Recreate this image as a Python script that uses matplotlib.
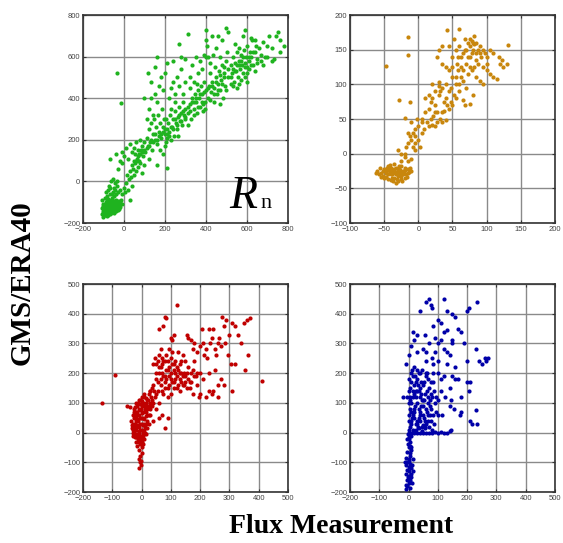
import numpy as np
import matplotlib
matplotlib.use("Agg")
import matplotlib.pyplot as plt

rn_pts = [
    # cluster bottom left
    (-100, -150), (-95, -160), (-90, -140), (-85, -130), (-80, -150), (-75, -120), (-70, -140),
    (-65, -110), (-60, -130), (-55, -100), (-50, -120), (-45, -140), (-40, -110), (-35, -130),
    (-30, -100), (-25, -120), (-20, -110), (-105, -130), (-100, -110), (-95, -125), (-90, -100),
    (-85, -95), (-80, -110), (-75, -90), (-70, -100), (-65, -125), (-60, -145), (-55, -135),
    (-50, -95), (-45, -105), (-40, -90), (-35, -115), (-30, -125), (-25, -95), (-85, -165),
    (-100, -170), (-92, -120), (-78, -135), (-68, -155), (-58, -115), (-48, -125), (-38, -140),
    (-28, -110), (-18, -125), (-105, -90), (-95, -80), (-85, -70), (-80, -40), (-75, -20),
    (-70, -60), (-90, -50), (-60, -80), (-50, -70), (-40, -60), (-65, 0), (-55, 10), (-45, -10),
    (-35, 0), (-50, -30), (-20, -40), (-10, -60), (-30, -50), (-100, -140), (-72, -128),
    (-62, -108), (-52, -142), (-42, -118), (-32, -92), (-22, -135), (-88, -148), (-108, -155),
    (-12, -110), (-15, -90),
    (-98, -135), (-93, -155), (-88, -118), (-83, -142), (-78, -160), (-73, -112), (-68, -132),
    (-63, -150), (-58, -98), (-53, -125), (-47, -150), (-43, -100), (-37, -122), (-33, -108),
    (-27, -138), (-23, -105), (-17, -100), (-82, -125), (-76, -100), (-66, -95), (-56, -88),
    (-46, -115), (-36, -100), (-26, -112), (-96, -145), (-86, -108), (-104, -120), (-62, -120),
    (-52, -108), (-42, -132), (-90, -160), (-70, -118), (-80, -85), (-60, -60), (-70, -30),
    (-45, -40), (-35, -20), (-55, -50), (-95, -110), (-75, -145),
    # 0 .. 200
    (0, -30), (5, -50), (10, -10), (15, 30), (20, -40), (25, 10), (30, 50), (35, 20), (40, -20),
    (45, 60), (50, 30), (55, 90), (60, 50), (65, 110), (70, 70), (75, 130), (80, 90), (85, 150),
    (90, 40), (95, 120), (100, 80), (-30, 60), (-20, 100), (-10, 140), (0, 120), (10, 160),
    (20, 110), (30, 180), (40, 140), (50, 160), (60, 190), (70, 150), (80, 200), (90, 170),
    (100, 190), (-40, 130), (-10, 90), (40, 80), (55, 130), (75, 100), (210, 65), (160, 80),
    (30, -90), (-70, 110), (-35, 520), (-15, 375),
    (105, 140), (110, 210), (115, 170), (120, 250), (125, 190), (130, 280), (135, 150), (140, 230),
    (145, 300), (150, 200), (155, 260), (160, 180), (165, 320), (170, 240), (175, 280), (180, 210),
    (185, 350), (190, 260), (195, 300), (200, 230), (110, 300), (120, 350), (130, 400), (140, 320),
    (150, 420), (160, 380), (170, 460), (180, 500), (190, 440), (200, 520), (115, 520), (150, 550),
    (160, 600), (100, 400), (130, 480), (200, 170), (190, 130), (120, 110), (175, 150), (205, 190),
    (210, 250),
    # 200 .. 400
    (210, 210), (215, 280), (220, 240), (225, 320), (230, 200), (235, 260), (240, 300), (245, 220),
    (250, 340), (255, 280), (260, 250), (265, 310), (270, 360), (275, 290), (280, 330), (285, 270),
    (290, 380), (295, 320), (300, 350), (220, 400), (230, 450), (240, 480), (250, 420), (260, 500),
    (270, 460), (280, 540), (290, 420), (300, 480), (210, 570), (240, 580), (270, 660), (280, 600),
    (300, 590), (310, 710), (230, 350), (250, 380), (205, 300), (265, 220), (300, 300), (310, 270),
    (310, 330), (320, 370), (325, 300), (330, 400), (340, 350), (345, 420), (350, 380), (355, 330),
    (360, 440), (365, 400), (370, 360), (375, 460), (380, 420), (385, 340), (390, 480), (395, 380),
    (400, 440), (320, 500), (330, 560), (340, 480), (350, 600), (360, 520), (370, 580), (380, 540),
    (390, 610), (400, 600), (400, 680), (400, 730), (405, 650), (320, 450), (355, 470), (385, 370),
    (395, 350), (340, 320),
    # 400 .. 800
    (410, 400), (415, 460), (420, 520), (425, 430), (430, 480), (435, 610), (440, 450), (445, 550),
    (450, 500), (455, 420), (460, 470), (465, 530), (470, 440), (475, 490), (480, 560), (485, 400),
    (490, 520), (495, 460), (500, 580), (410, 600), (420, 570), (430, 700), (450, 640), (460, 700),
    (470, 600), (480, 680), (490, 550), (500, 740), (510, 720), (440, 380), (470, 370), (500, 440),
    (510, 500), (520, 470), (505, 620),
    (520, 560), (525, 520), (530, 600), (535, 480), (540, 570), (545, 530), (550, 620), (555, 500),
    (560, 580), (565, 540), (570, 610), (575, 560), (580, 520), (585, 630), (590, 570), (595, 600),
    (600, 550), (540, 660), (560, 640), (580, 700), (590, 730), (600, 650), (530, 460), (550, 450),
    (570, 490), (590, 500), (600, 520), (600, 480), (560, 470),
    (610, 580), (615, 620), (620, 600), (625, 680), (630, 560), (640, 620), (645, 650), (650, 590),
    (660, 640), (670, 610), (680, 670), (690, 600), (700, 650), (710, 700), (720, 640), (730, 590),
    (740, 700), (750, 720), (760, 680), (780, 650), (620, 690), (650, 570), (680, 560), (700, 600),
    (610, 540), (640, 530), (670, 580), (760, 620), (720, 580), (640, 680),
    # densest part of the band
    (50, 100), (70, 120), (90, 140), (110, 160), (130, 200), (150, 230), (170, 220), (190, 240),
    (210, 230), (230, 260), (250, 300), (270, 320), (290, 340), (310, 360), (330, 380), (350, 400),
    (370, 420), (390, 430), (410, 450), (430, 460), (450, 480), (470, 510), (490, 500), (510, 540),
    (530, 540), (550, 560), (570, 580), (590, 550), (610, 600), (630, 620), (620, 560), (580, 600),
    (560, 560), (540, 530), (520, 500), (480, 470), (460, 440), (440, 420), (420, 390), (380, 380),
    (360, 360), (340, 380), (320, 340), (300, 310), (280, 290), (260, 270), (240, 250), (220, 220),
    (200, 250), (180, 230), (160, 200), (140, 190), (120, 170), (100, 150), (80, 130), (60, 100),
]

h_pts = [
    (-60, -25), (-55, -28), (-50, -22), (-45, -30), (-40, -20), (-35, -35), (-30, -25), (-25, -32),
    (-20, -20), (-15, -28), (-50, -35), (-45, -18), (-40, -38), (-35, -15), (-30, -40), (-25, -18),
    (-20, -35), (-15, -22), (-42, -26), (-38, -30), (-32, -20), (-28, -28), (-22, -25), (-18, -30),
    (-48, -28), (-52, -32), (-36, -25), (-26, -36), (-33, -42), (-12, -20), (-10, -25), (-58, -30),
    (-44, -24), (-30, -32), (-24, -26), (-40, -30), (-34, -28), (-28, -22), (-46, -20),
    (-56, -20), (-52, -25), (-47, -33), (-43, -22), (-38, -35), (-35, -22), (-31, -36), (-27, -24),
    (-23, -30), (-19, -24), (-16, -34), (-13, -26), (-41, -17), (-37, -40), (-29, -18), (-24, -40),
    (-21, -28), (-44, -36), (-49, -24), (-54, -34), (-62, -28), (-33, -30), (-39, -25), (-26, -30),
    (-31, -26),
    (-30, 5), (-25, 0), (-20, -5), (-15, -10), (-10, -8), (-25, -10), (-20, 0), (-15, 15),
    (-10, 20), (-5, 15), (-18, 10), (-12, 25), (-8, 30), (-5, 35), (0, 40), (-15, 30), (-2, 50),
    (5, 50), (-10, 45), (-20, 52), (-28, 78), (-12, 75), (-5, 5),
    (0, 20), (-5, 25), (2, 10), (-8, 10), (5, 45), (15, 40), (18, 75), (25, 60), (32, 90),
    (48, 95), (55, 110), (65, 120), (68, 150), (75, 165), (80, 160), (85, 160), (90, 145),
    (78, 145), (72, 140), (82, 125), (58, 140), (50, 125), (62, 110),
    (5, 30), (8, 35), (10, 60), (12, 45), (15, 65), (18, 50), (20, 80), (22, 55), (25, 70),
    (28, 45), (30, 85), (32, 50), (35, 60), (38, 75), (40, 48), (10, 80), (15, 85), (20, 100),
    (25, 90), (30, 103), (35, 95), (40, 80), (20, 42), (25, 40), (28, 60), (35, 45), (30, 98),
    (40, 100), (42, 70), (45, 90), (48, 75), (50, 110), (52, 85), (55, 100), (58, 120), (60, 90),
    (62, 125), (65, 105), (68, 70), (70, 130), (72, 115), (75, 140), (78, 120), (80, 85), (85, 110),
    (88, 150), (90, 105), (95, 100), (100, 140), (45, 120), (40, 125), (35, 130), (50, 140),
    (55, 150), (60, 155), (65, 145), (70, 150), (72, 160), (75, 155), (78, 162), (80, 150),
    (82, 158), (85, 145), (88, 130), (90, 155), (92, 140), (95, 150), (98, 145), (100, 130),
    (105, 150), (110, 110), (115, 108), (118, 140), (120, 130), (122, 135), (124, 125), (132, 157),
    (130, 130), (110, 145), (60, 180), (42, 178), (52, 165), (45, 155), (35, 155), (82, 170),
    (68, 165), (62, 140), (56, 130), (75, 125), (85, 135), (95, 125), (100, 120), (105, 115),
    (70, 95), (65, 78), (75, 72), (60, 100), (55, 80), (50, 70), (45, 65), (38, 62), (-15, 168),
    (-15, 142), (-48, 126), (30, 150), (28, 140),
]

le_pts = [
    (-30, 0), (-25, 20), (-20, 40), (-15, -10), (-10, 60), (-5, 30), (0, 10), (5, 50), (10, -20),
    (15, 70), (20, 40), (-28, 30), (-22, 60), (-18, 10), (-12, -20), (-8, 80), (-2, 50), (3, -30),
    (8, 90), (12, 20), (18, 60), (-26, 50), (-20, -5), (-15, 25), (-10, 5), (-5, 75), (0, 90),
    (5, -10), (10, 30), (15, 100), (20, 80), (-32, 15), (-24, -15), (-16, 45), (-6, -40), (2, 65),
    (6, 25), (14, -5), (22, 110), (25, 90), (30, 100), (-35, 40), (-12, 100), (-4, 110), (10, 120),
    (-8, -60), (-5, -80), (0, -50), (2, -70), (-10, -90), (-5, -100), (-2, -95), (-8, -120),
    (-3, -110), (5, -40), (-14, -45), (-18, -30), (-38, 85), (-25, 80), (-20, 100), (0, 120),
    (-30, 10), (-28, -10), (-25, 5), (-22, 30), (-20, 20), (-18, 50), (-15, 70), (-12, 40),
    (-10, 20), (-8, 0), (-6, 50), (-4, -20), (-2, 80), (0, 30), (2, -10), (4, 100), (6, 70),
    (8, 45), (10, 10), (12, 80), (14, 55), (16, 30), (18, 90), (20, 110), (24, 60), (28, 80),
    (32, 120), (35, 90), (-30, 60), (-26, 70), (-22, 85), (-16, 90), (-10, 110), (-4, 95),
    (2, 105), (8, 130), (14, 115), (-34, 25), (-12, -5), (-18, -15), (-6, 10), (0, -20), (6, -5),
    (-2, -35), (-10, -30), (-6, -10), (4, 5), (-20, 70), (-14, 60), (12, 0), (18, 15), (24, 30),
    (30, 60), (38, 100), (44, 140), (50, 130), (36, 150), (28, 140),
    (25, 130), (30, 140), (35, 110), (40, 160), (45, 120), (50, 180), (55, 140), (60, 100),
    (65, 160), (70, 200), (75, 130), (80, 170), (85, 210), (90, 150), (95, 190), (100, 130),
    (105, 230), (110, 170), (115, 200), (120, 150), (125, 210), (130, 180), (135, 240), (140, 160),
    (145, 200), (150, 190), (155, 150), (160, 220), (165, 170), (170, 200), (175, 130), (180, 240),
    (185, 190), (190, 160), (195, 120), (200, 130), (40, 230), (45, 250), (50, 200), (55, 240),
    (60, 260), (65, 220), (70, 250), (75, 240), (80, 190), (85, 260), (90, 240), (95, 220),
    (100, 250), (105, 270), (110, 210), (115, 240), (120, 190), (125, 270), (130, 230), (135, 200),
    (140, 260), (150, 240), (60, 350), (75, 360), (80, 390), (85, 385), (95, 280), (100, 320),
    (105, 310), (110, 330), (120, 430), (155, 330), (160, 320), (170, 310), (175, 280), (180, 300),
    (190, 270), (200, 290), (205, 350), (210, 300), (215, 260), (220, 280), (225, 250), (230, 350),
    (235, 300), (240, 320), (245, 350), (250, 280), (255, 260), (260, 300), (265, 320), (270, 290),
    (275, 390), (280, 360), (285, 300), (290, 380), (295, 260), (300, 330), (305, 230), (310, 370),
    (320, 360), (330, 330), (340, 300), (350, 370), (360, 380), (370, 385), (365, 260), (355, 210),
    (320, 230), (310, 140), (240, 130), (230, 140), (220, 120), (260, 120), (270, 180), (280, 160),
    (250, 210), (260, 160), (200, 200), (210, 180), (230, 200), (245, 140), (410, 175), (-90, 195),
    (-135, 100), (-50, 90), (80, 15), (90, 50), (70, 60), (50, 80), (60, 50), (40, 40),
    (55, 170), (60, 200), (65, 180), (70, 140), (75, 190), (80, 150), (85, 180), (90, 210),
    (95, 160), (100, 200), (105, 170), (110, 150), (115, 180), (120, 220), (125, 160), (130, 200),
    (135, 170), (140, 190), (145, 160), (150, 170), (155, 200), (160, 180), (165, 150), (170, 170),
    (175, 210), (180, 190), (190, 200), (100, 180), (110, 230), (90, 120), (130, 140), (60, 220),
    (70, 230), (50, 230), (65, 280), (80, 240),
]

g_pts = [
    (-10, -190), (-5, -180), (0, -170), (5, -160), (10, -150), (-8, -140), (2, -130), (8, -120),
    (12, -110), (-5, -100), (0, -90), (6, -80), (-12, -100), (4, -70), (10, -60), (0, -50),
    (-3, -40), (5, -30), (2, -20), (8, -10), (-2, -5), (15, -130), (15, -90), (-10, -110),
    (-6, -160), (6, -185), (12, -170), (3, -145), (-4, -65), (1, -115),
    (-8, -175), (4, -165), (-3, -150), (9, -140), (-6, -125), (5, -105), (-9, -85), (3, -95),
    (9, -50), (-5, -20), (6, -45), (0, -15),
    (0, 0), (10, 0), (20, 0), (30, 0), (40, 0), (50, 0), (60, 0), (70, 0), (80, 0), (90, 2),
    (100, 0), (110, 2), (120, 0), (130, 0), (140, 5), (145, 10),
    (5, 20), (10, 40), (15, 60), (20, 80), (25, 30), (30, 100), (35, 50), (40, 70), (45, 20),
    (50, 90), (55, 40), (60, 30), (65, 60), (70, 20), (75, 40), (80, 10), (5, 120), (10, 100),
    (15, 140), (20, 160), (25, 120), (30, 180), (35, 140), (40, 200), (45, 110), (50, 160),
    (55, 130), (60, 190), (65, 100), (70, 150), (75, 80), (80, 120), (0, 60), (0, 100), (0, 140),
    (-5, 120), (2, 180), (8, 200), (12, 210), (18, 220), (22, 190), (28, 210), (32, 160), (38, 120),
    (42, 90), (48, 60), (52, 170), (58, 200), (62, 70), (68, 180), (72, 110), (78, 130), (85, 200),
    (85, 170), (90, 100), (95, 70), (100, 60), (88, 30), (15, 10), (25, 10), (35, 15), (45, 5),
    (55, 15), (10, 70), (20, 50), (30, 30), (40, 40), (50, 25),
    (3, 10), (8, 30), (12, 50), (18, 70), (22, 90), (28, 40), (32, 20), (38, 60), (42, 130),
    (48, 110), (52, 50), (58, 80), (62, 140), (66, 40), (72, 60), (76, 170), (82, 60), (4, 80),
    (6, 150), (14, 120), (24, 140), (26, 170), (34, 200), (44, 170), (46, 210), (54, 110),
    (64, 200), (74, 90), (2, 40), (7, 170), (16, 190), (36, 80), (56, 20), (66, 120), (86, 140),
    (92, 120), (6, 110), (20, 130), (30, 140), (40, 150),
    (-20, 120), (-10, 230), (0, 260), (10, 290), (20, 310), (30, 330), (15, 340), (50, 280),
    (60, 270), (70, 300), (55, 330), (80, 250), (85, 230), (90, 320), (100, 300), (110, 310),
    (120, 280), (130, 270), (140, 260), (150, 300), (160, 220), (100, 200), (110, 180), (120, 190),
    (125, 120), (130, 230), (140, 150), (145, 110), (150, 190), (160, 180), (170, 180), (175, 60),
    (180, 70), (190, 300), (200, 240), (205, 140), (210, 40), (215, 30), (230, 75), (235, 30),
    (240, 240), (250, 230), (260, 250), (270, 250), (265, 240), (200, 170), (210, 170), (230, 280),
    (60, 440), (70, 450), (75, 430), (80, 420), (100, 380), (110, 370), (120, 450), (130, 410),
    (150, 400), (160, 390), (170, 350), (180, 340), (200, 410), (205, 420), (235, 440), (120, 340),
    (130, 345), (150, 310), (40, 410), (85, 360), (100, 240), (90, 270), (30, 270), (60, 240),
    (110, 140), (100, 110), (115, 60), (140, 90), (155, 80), (180, 120),
]

rn_ticks = [-200, 0, 200, 400, 600, 800]
h_ticks = [-100, -50, 0, 50, 100, 150, 200]
flux_ticks = [-200, -100, 0, 100, 200, 300, 400, 500]

panels = [
    # (points, colour, ticks, axes rect in figure fractions)
    (rn_pts, "#1fb31f", rn_ticks, [0.1474, 0.5893, 0.364, 0.383]),
    (h_pts, "#c8860c", h_ticks, [0.6217, 0.5893, 0.364, 0.383]),
    (le_pts, "#c00000", flux_ticks, [0.1474, 0.0939, 0.364, 0.383]),
    (g_pts, "#0000a8", flux_ticks, [0.6217, 0.0939, 0.364, 0.383]),
]

fig = plt.figure(figsize=(5.63, 5.43), dpi=100)
fig.patch.set_facecolor("white")

axes = []
for pts, col, ticks, rect in panels:
    ax = fig.add_axes(rect)
    pts = np.array(pts, dtype=float)
    ax.scatter(pts[:, 0], pts[:, 1], s=9, c=col, linewidths=0, zorder=3)
    ax.set_xlim(ticks[0], ticks[-1])
    ax.set_ylim(ticks[0], ticks[-1])
    ax.set_xticks(ticks)
    ax.set_yticks(ticks)
    ax.grid(True, color="#8a8a8a", linewidth=1.0, zorder=0)
    ax.tick_params(direction="in", length=2, width=0.8, top=True, right=True,
                   labelsize=5.5, labelcolor="#444444", pad=2, color="#333333")
    for lab in ax.get_xticklabels() + ax.get_yticklabels():
        lab.set_family("Liberation Sans")
    for sp in ax.spines.values():
        sp.set_color("#333333")
        sp.set_linewidth(1.2)
    ax.set_axisbelow(True)
    axes.append(ax)

# Rn label in the first panel
axes[0].text(512, -128, "R", fontsize=33, family="Liberation Serif",
             style="italic", ha="left", va="baseline", zorder=4)
axes[0].text(668, -128, "n", fontsize=16, family="Liberation Serif",
             ha="left", va="baseline", zorder=4)

fig.text(0.039, 0.48, "GMS/ERA40", rotation=90, fontsize=21, fontweight="bold",
         family="Liberation Serif", ha="center", va="center")
fig.text(0.605, 0.03, "Flux Measurement", fontsize=20, fontweight="bold",
         family="Liberation Serif", ha="center", va="center")

fig.savefig("out.png", dpi=100, facecolor="white")
